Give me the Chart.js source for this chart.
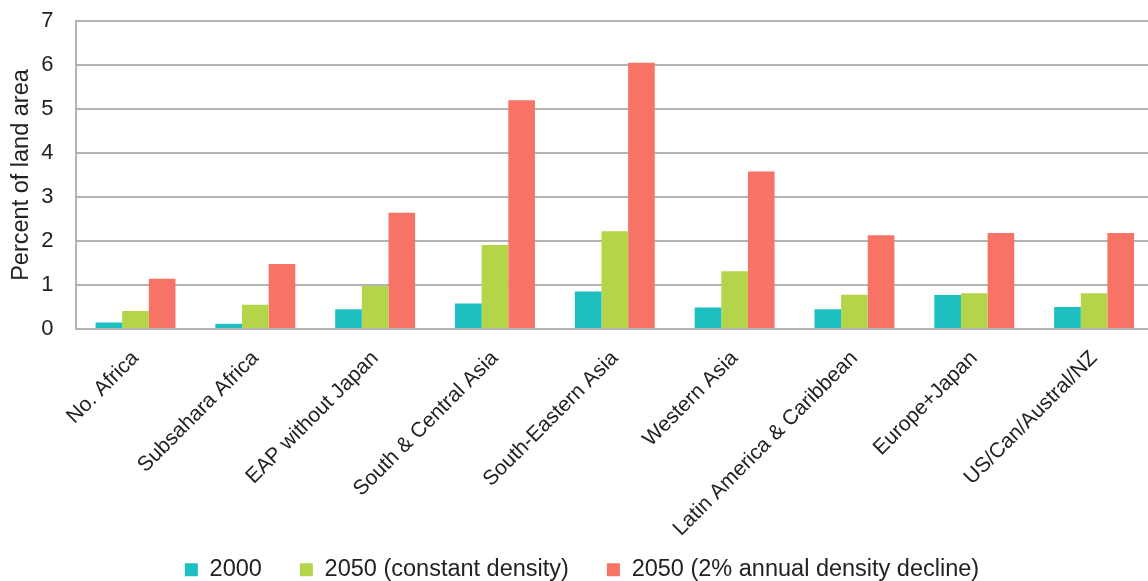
<!DOCTYPE html>
<html>
<head>
<meta charset="utf-8">
<script src="https://cdn.jsdelivr.net/npm/chart.js@4"></script>
<style>
  html, body { margin: 0; padding: 0; background: #fff; overflow: hidden; }
  /* the source picture is cropped on the right, so the chart is a little wider than the window */
  #wrap { width: 1154px; height: 581px; }
</style>
</head>
<body>
<div id="wrap"><canvas id="chart"></canvas></div>
<script>
// Data
const regions = ['No. Africa', 'Subsahara Africa', 'EAP without Japan', 'South & Central Asia',
    'South-Eastern Asia', 'Western Asia', 'Latin America & Caribbean', 'Europe+Japan', 'US/Can/Austral/NZ'];
const share2000 = [0.15, 0.12, 0.45, 0.58, 0.85, 0.49, 0.45, 0.77, 0.50];
const share2050Constant = [0.41, 0.55, 0.98, 1.91, 2.22, 1.31, 0.78, 0.81, 0.81];
const share2050Decline = [1.14, 1.48, 2.64, 5.20, 6.05, 3.58, 2.13, 2.18, 2.18];
const seriesNames = ['2000', '2050 (constant density)', '2050 (2% annual density decline)'];
const yTicks = [0, 1, 2, 3, 4, 5, 6, 7];

const gridGrey = '#b3b3b3';
const textColor = '#222';
const font = 'Liberation Sans, Arial, Helvetica, sans-serif';

// legend sits at the very bottom, overlapping the space of the rotated labels
const legendSpot = {
    id: 'legendSpot',
    afterInit(chart) {
        const fit = chart.legend.fit;
        chart.legend.fit = function () {
            fit.bind(chart.legend)();
            this.height = 30;
        };
    },
    afterLayout(chart) {
        const lg = chart.legend;
        lg.top = 520;
        lg.bottom = 581;
        lg.height = 61;
        lg.left += 5;
        lg.right += 5;
    }
};

new Chart(document.getElementById('chart'), {
    type: 'bar',
    data: {
        labels: regions,
        datasets: [
            { label: seriesNames[0], data: share2000, backgroundColor: '#1dbfc1' },
            { label: seriesNames[1], data: share2050Constant, backgroundColor: '#b4d44a' },
            { label: seriesNames[2], data: share2050Decline, backgroundColor: '#f77366' }
        ]
    },
    options: {
        responsive: true,
        maintainAspectRatio: false,
        animation: false,
        layout: { padding: { top: 21, right: 0, left: 0, bottom: 0 } },
        datasets: { bar: { categoryPercentage: 0.667, barPercentage: 1.0 } },
        plugins: {
            legend: {
                position: 'bottom',
                labels: {
                    boxWidth: 13,
                    boxHeight: 13,
                    padding: 38,
                    color: textColor,
                    font: { family: font, size: 23.5 }
                }
            },
            tooltip: { enabled: false }
        },
        scales: {
            x: {
                grid: { display: false },
                border: { display: true, color: gridGrey, width: 2 },
                ticks: {
                    minRotation: 45,
                    maxRotation: 45,
                    autoSkip: false,
                    padding: 9,
                    color: textColor,
                    font: { family: font, size: 21 }
                },
                afterFit(scale) {
                    scale.height = 222;
                    scale.paddingLeft = 0;
                    scale.paddingRight = 0;
                }
            },
            y: {
                min: 0,
                max: 7,
                afterBuildTicks(scale) { scale.ticks = yTicks.map(v => ({ value: v })); },
                grid: { color: gridGrey, lineWidth: 2, drawTicks: false },
                border: { display: true, color: gridGrey, width: 2 },
                ticks: {
                    padding: 22,
                    color: textColor,
                    font: { family: font, size: 22 }
                },
                title: {
                    display: true,
                    text: 'Percent of land area',
                    color: textColor,
                    padding: { top: 7, bottom: 0 },
                    font: { family: font, size: 23.5 }
                },
                afterFit(scale) {
                    scale.width = 75.6;
                    scale.paddingTop = 0;
                    scale.paddingBottom = 0;
                }
            }
        }
    },
    plugins: [legendSpot]
});
</script>
</body>
</html>
